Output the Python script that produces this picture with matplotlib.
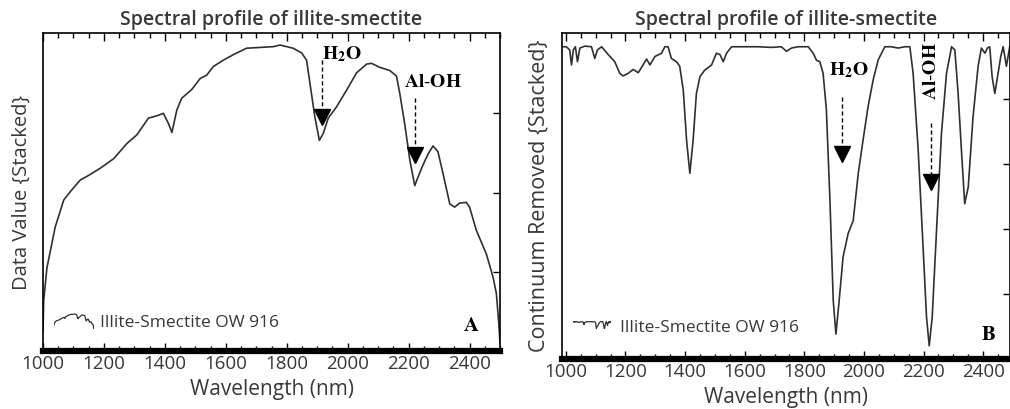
import numpy as np
import matplotlib.pyplot as plt
from matplotlib.ticker import MultipleLocator

# Painel A - espectro
wl_a = [1000, 1002, 1013, 1040, 1068, 1095, 1122, 1150, 1188, 1232, 1275, 1308,
        1346, 1374, 1395, 1412, 1423, 1439, 1455, 1488, 1516, 1537, 1559, 1592,
        1625, 1668, 1712, 1756, 1778, 1821, 1849, 1865, 1876, 1892, 1907, 1920,
        1936, 1963, 1996, 2029, 2062, 2078, 2105, 2138, 2160, 2171, 2187, 2204,
        2220, 2231, 2247, 2264, 2280, 2296, 2313, 2335, 2351, 2367, 2389, 2400,
        2422, 2455, 2477, 2488, 2496, 2500]
val_a = [0.125, 0.164, 0.206, 0.257, 0.291, 0.304, 0.316, 0.322, 0.331, 0.343,
         0.362, 0.373, 0.394, 0.397, 0.400, 0.387, 0.376, 0.404, 0.419, 0.430,
         0.444, 0.448, 0.459, 0.467, 0.474, 0.482, 0.483, 0.484, 0.486, 0.482,
         0.476, 0.467, 0.438, 0.396, 0.366, 0.375, 0.394, 0.408, 0.429, 0.451,
         0.462, 0.463, 0.458, 0.454, 0.447, 0.425, 0.387, 0.341, 0.309, 0.320,
         0.335, 0.349, 0.359, 0.352, 0.324, 0.286, 0.282, 0.287, 0.288, 0.282,
         0.253, 0.223, 0.194, 0.173, 0.135, 0.110]

# Painel B - continuo removido
wl_b = [990, 1002, 1013, 1019, 1025, 1032, 1039, 1047, 1064, 1086, 1097, 1106,
        1120, 1142, 1164, 1181, 1192, 1209, 1226, 1243, 1259, 1271, 1282, 1299,
        1321, 1332, 1343, 1354, 1371, 1382, 1394, 1405, 1416, 1427, 1438, 1450,
        1466, 1489, 1505, 1517, 1528, 1539, 1556, 1600, 1645, 1690, 1723, 1740,
        1757, 1779, 1813, 1830, 1841, 1852, 1863, 1874, 1886, 1897, 1906, 1917,
        1930, 1947, 1964, 1981, 1997, 2014, 2031, 2048, 2070, 2092, 2115, 2137,
        2154, 2165, 2182, 2199, 2210, 2219, 2229, 2243, 2260, 2277, 2294, 2305,
        2316, 2327, 2338, 2350, 2366, 2383, 2394, 2406, 2414, 2422, 2430, 2439,
        2450, 2459, 2467, 2478, 2489]
val_b = [0.981, 0.981, 0.976, 0.953, 0.976, 0.981, 0.958, 0.979, 0.982, 0.981,
         0.963, 0.976, 0.981, 0.969, 0.958, 0.940, 0.936, 0.940, 0.946, 0.941,
         0.953, 0.962, 0.953, 0.966, 0.971, 0.981, 0.981, 0.963, 0.958, 0.951,
         0.914, 0.837, 0.786, 0.837, 0.909, 0.935, 0.945, 0.953, 0.971, 0.969,
         0.958, 0.971, 0.981, 0.981, 0.981, 0.980, 0.981, 0.974, 0.979, 0.981,
         0.981, 0.971, 0.960, 0.958, 0.940, 0.884, 0.744, 0.590, 0.538, 0.590,
         0.657, 0.693, 0.713, 0.786, 0.837, 0.889, 0.930, 0.961, 0.981, 0.981,
         0.979, 0.981, 0.981, 0.940, 0.822, 0.667, 0.564, 0.520, 0.564, 0.693,
         0.847, 0.940, 0.981, 0.976, 0.909, 0.822, 0.739, 0.765, 0.873, 0.951,
         0.979, 0.971, 0.979, 0.981, 0.935, 0.909, 0.940, 0.966, 0.981, 0.951,
         0.981]

titulo = 'Spectral profile of illite-smectite'
legenda = 'Illite-Smectite OW 916'
cor_texto = '#383838'
cor_linha = '#303030'

# anotacoes: (texto, x, y, seta_x, seta_y0, seta_y1, rotacao)
notas_a = [(r'$\mathbf{H_2O}$', 1982, 0.474, 1914, 0.467, 0.396, 0),
           (r'$\mathbf{Al\text{-}OH}$', 2280, 0.439, 2220, 0.419, 0.347, 0)]
notas_b = [(r'$\mathbf{H_2O}$', 1949, 0.945, 1925, 0.904, 0.816, 0),
           (r'$\mathbf{Al\text{-}OH}$', 2224, 0.944, 2224, 0.863, 0.773, 90)]

plt.rcParams['font.family'] = ['Open Sans', 'DejaVu Sans']
plt.rcParams['mathtext.fontset'] = 'stix'

fig = plt.figure(figsize=(10.1, 4.09), dpi=100)
ax_a = fig.add_axes([0.0426, 0.142, 0.4525, 0.777])
ax_b = fig.add_axes([0.5564, 0.122, 0.4436, 0.797])


def estilo(ax, xlim, ylim, yticks, rotulo_y, tam_y, pad_y):
    ax.set_xlim(*xlim)
    ax.set_ylim(*ylim)
    ax.xaxis.set_major_locator(MultipleLocator(200))
    ax.xaxis.set_minor_locator(MultipleLocator(50))
    ax.set_yticks(yticks)
    ax.tick_params(axis='x', which='both', direction='in', top=True,
                   bottom=True, labelsize=13.5, colors='black',
                   labelcolor=cor_texto, pad=3)
    ax.tick_params(axis='x', which='major', length=6, width=1)
    ax.tick_params(axis='x', which='minor', length=3.5, width=1)
    ax.tick_params(axis='y', which='major', direction='in', left=False,
                   right=True, labelleft=False, length=5, width=1)
    ax.spines['bottom'].set_linewidth(4.5)
    for s in ['top', 'left', 'right']:
        ax.spines[s].set_linewidth(1.2)
    ax.set_xlabel('Wavelength (nm)', fontsize=15, color=cor_texto, labelpad=4)
    ax.set_ylabel(rotulo_y, fontsize=tam_y, color=cor_texto, labelpad=pad_y)
    ax.set_title(titulo, fontsize=14, color=cor_texto, fontweight='semibold',
                 pad=6)


def notas(ax, lista):
    for txt, tx, ty, sx, sy0, sy1, rot in lista:
        ax.text(tx, ty, txt, fontsize=14, ha='center', va='center',
                rotation=rot)
        ax.plot([sx, sx], [sy0, sy1], color='black', lw=1, ls=(0, (3, 2)))
        ax.plot([sx], [sy1], marker='v', color='black', markersize=11,
                clip_on=False)


def mini(ax, pos, x, y):
    # pequena amostra da curva usada como simbolo da legenda
    ins = ax.inset_axes(pos)
    ins.plot(x, y, color=cor_linha, lw=0.9)
    ins.set_xlim(min(x), max(x))
    ins.set_xticks([])
    ins.set_yticks([])
    ins.axis('off')


# Painel A
ax_a.plot(wl_a, val_a, color=cor_linha, lw=1.2)
estilo(ax_a, (1000, 2500), (0.101, 0.501), [0.2, 0.3, 0.4],
       'Data Value {Stacked}', 14.5, 8)
notas(ax_a, notas_a)
mini(ax_a, [0.023, 0.068, 0.088, 0.05], wl_a, val_a)
ax_a.text(0.125, 0.089, legenda, transform=ax_a.transAxes, fontsize=12.5,
          color=cor_texto, va='center')
ax_a.text(2406, 0.133, r'$\mathbf{A}$', fontsize=15, ha='center', va='center')

# Painel B
ax_b.plot(wl_b, val_b, color=cor_linha, lw=1.2)
estilo(ax_b, (987, 2490), (0.4995, 1.002), [0.6, 0.7, 0.8, 0.9],
       'Continuum Removed {Stacked}', 15.5, 9)
notas(ax_b, notas_b)
mini(ax_b, [0.025, 0.092, 0.085, 0.024], wl_b, val_b)
ax_b.text(0.129, 0.094, legenda, transform=ax_b.transAxes, fontsize=12.5,
          color=cor_texto, va='center')
ax_b.text(2417, 0.538, r'$\mathbf{B}$', fontsize=15, ha='center', va='center')

fig.savefig('out.png', dpi=100)
